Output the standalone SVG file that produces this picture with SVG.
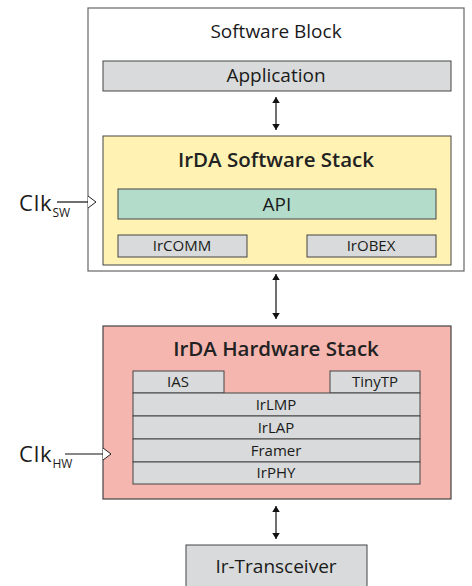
<svg xmlns="http://www.w3.org/2000/svg" width="472" height="586" viewBox="0 0 472 586">
<defs>
<style>
text{font-family:"Open Sans","Noto Sans",sans-serif;fill:#1a1a1a;text-anchor:middle}
.outer{fill:#ffffff;stroke:#666;stroke-width:1.2}
.gray{fill:#d9dadb;stroke:#444;stroke-width:1}
.t16{font-size:19px}
.t18{font-size:20.5px;font-weight:600;fill:#222}
.t13{font-size:15px}
.line{stroke:#111;stroke-width:1.2;fill:none}
.clk{fill:#fff;stroke:#222;stroke-width:1}
.clktxt{font-size:22px;text-anchor:start;letter-spacing:0.8px}
</style>
<marker id="ah" viewBox="0 0 8 10" refX="8" refY="5" markerWidth="6" markerHeight="8" markerUnits="userSpaceOnUse" orient="auto-start-reverse">
<path d="M0,0 L8,5 L0,10 z" fill="#111"/>
</marker>
</defs>

<g id="software-block">
<rect class="outer" x="88" y="8" width="376" height="263"/>
<text class="t16" x="276" y="38">Software Block</text>
</g>

<g id="application">
<rect class="gray" x="103" y="61" width="348" height="30"/>
<text class="t16" x="276" y="82">Application</text>
</g>

<g id="sw-stack">
<rect x="103" y="136" width="348" height="129" fill="#fff2b3" stroke="#444" stroke-width="1"/>
<text class="t18" x="276" y="167">IrDA Software Stack</text>
</g>

<g id="api">
<rect x="118" y="189" width="318" height="30" fill="#b3dccb" stroke="#444" stroke-width="1"/>
<text class="t16" x="277" y="211">API</text>
</g>

<g id="ircomm">
<rect class="gray" x="118" y="235" width="129" height="22"/>
<text class="t13" x="182" y="251">IrCOMM</text>
</g>

<g id="irobex">
<rect class="gray" x="307" y="235" width="129" height="22"/>
<text class="t13" x="371" y="251">IrOBEX</text>
</g>

<g id="hw-stack">
<rect x="103" y="326" width="348" height="173" fill="#f4b6ae" stroke="#444" stroke-width="1.2"/>
<text class="t18" x="276" y="356">IrDA Hardware Stack</text>
</g>

<g id="ias">
<rect class="gray" x="133" y="371" width="91" height="22"/>
<text class="t13" x="178" y="387">IAS</text>
</g>

<g id="tinytp">
<rect class="gray" x="330" y="371" width="90" height="22"/>
<text class="t13" x="375" y="387">TinyTP</text>
</g>

<g id="irlmp">
<rect class="gray" x="133" y="393" width="287" height="23"/>
<text class="t13" x="276" y="410">IrLMP</text>
</g>

<g id="irlap">
<rect class="gray" x="133" y="416" width="287" height="23"/>
<text class="t13" x="276" y="433">IrLAP</text>
</g>

<g id="framer">
<rect class="gray" x="133" y="439" width="287" height="23"/>
<text class="t13" x="276" y="456">Framer</text>
</g>

<g id="irphy">
<rect class="gray" x="133" y="462" width="287" height="22"/>
<text class="t13" x="276" y="478">IrPHY</text>
</g>

<g id="ir-transceiver">
<rect class="gray" x="186" y="545" width="181" height="50"/>
<text class="t16" x="276" y="573">Ir-Transceiver</text>
</g>

<g id="clk-sw">
<text class="clktxt" x="19" y="211">Clk<tspan font-size="12" dy="6" letter-spacing="0">SW</tspan></text>
</g>

<g id="clk-hw">
<text class="clktxt" x="19" y="462">Clk<tspan font-size="12" dy="6" letter-spacing="0">HW</tspan></text>
</g>

<g id="connectors">
<line class="line" x1="276" y1="97" x2="276" y2="130" marker-start="url(#ah)" marker-end="url(#ah)"/>
<line class="line" x1="276" y1="274" x2="276" y2="319" marker-start="url(#ah)" marker-end="url(#ah)"/>
<line class="line" x1="276" y1="506" x2="276" y2="539" marker-start="url(#ah)" marker-end="url(#ah)"/>
<line class="line" x1="57" y1="202" x2="88" y2="202"/>
<path class="clk" d="M88,196 L96,202 L88,208"/>
<line class="line" x1="65" y1="454" x2="103" y2="454"/>
<path class="clk" d="M103,448 L111,454 L103,460"/>
</g>
</svg>
